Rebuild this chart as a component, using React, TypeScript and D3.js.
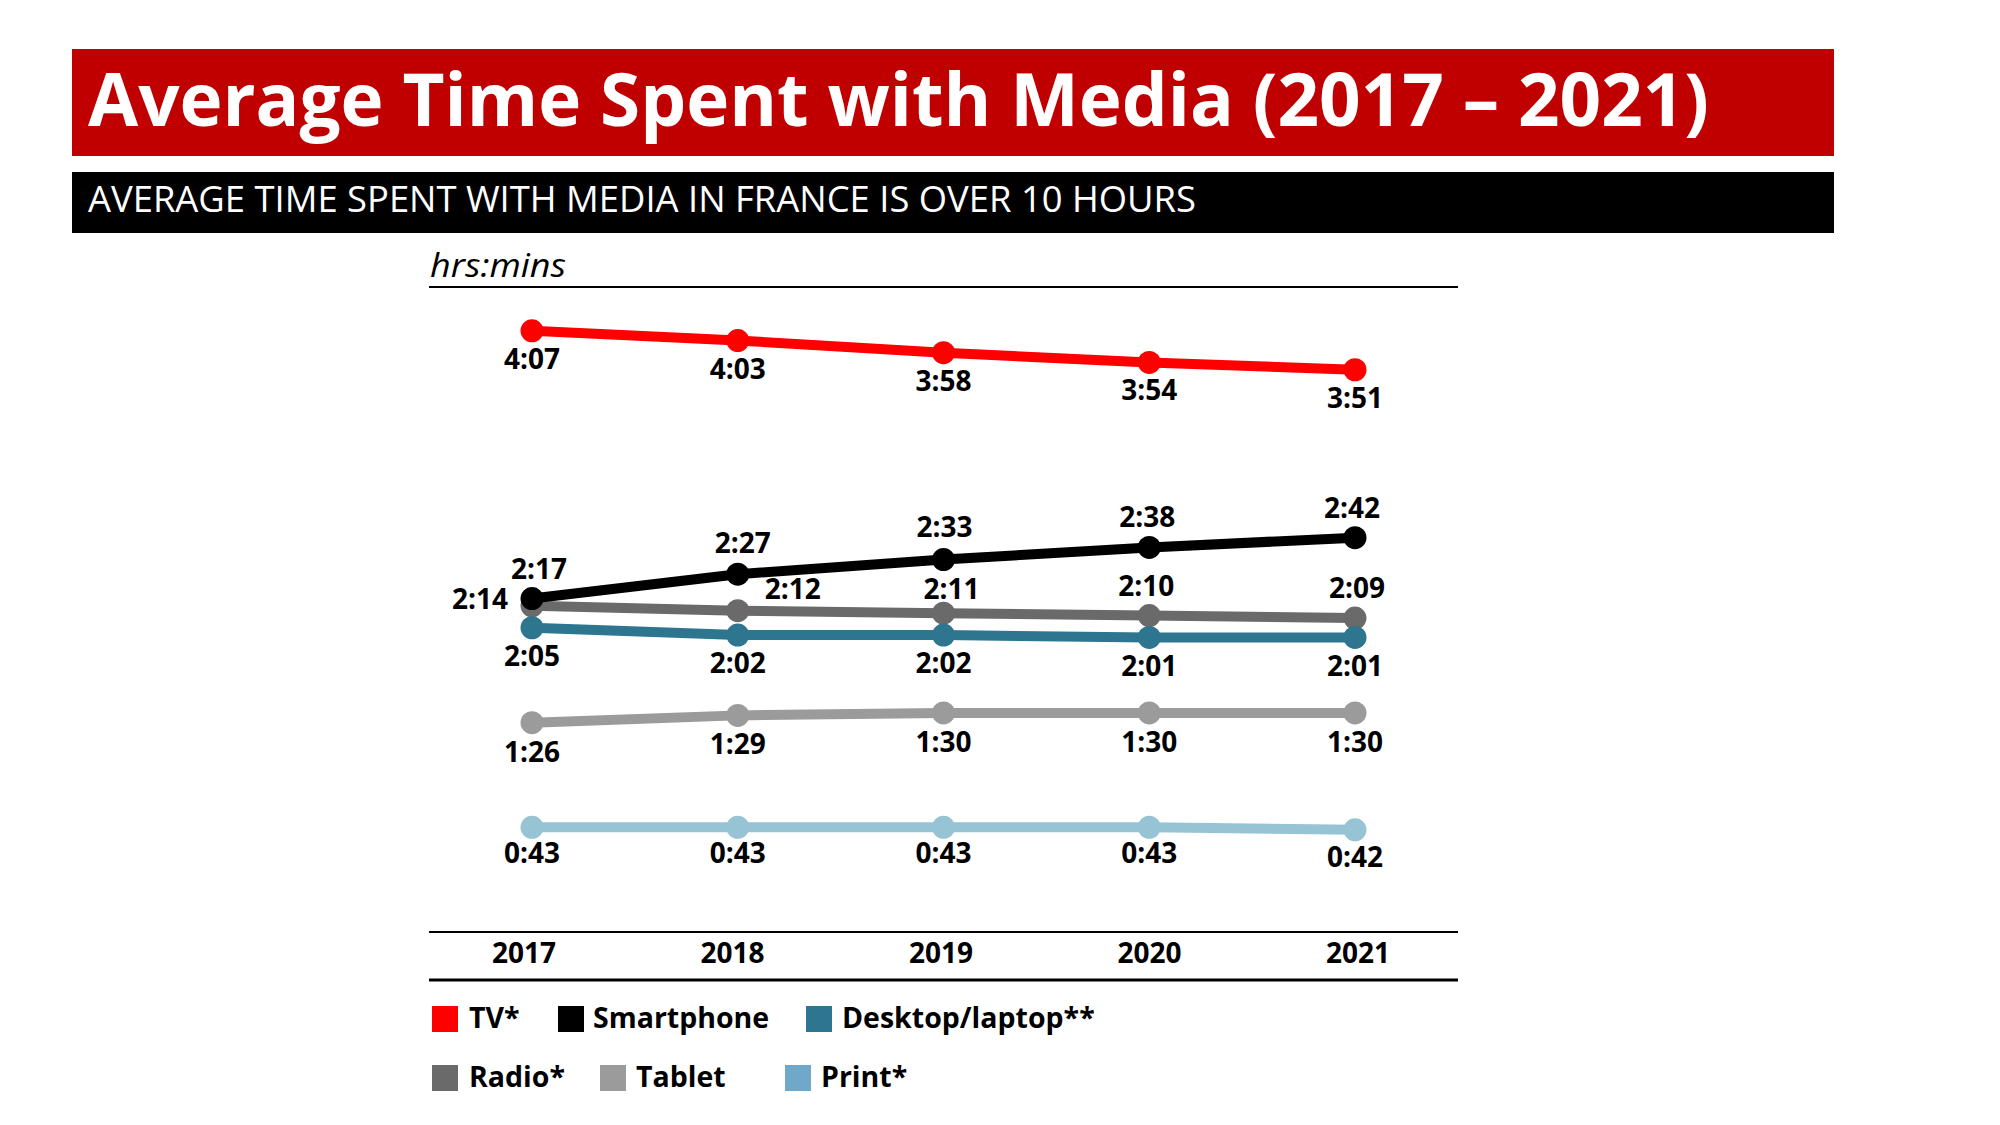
import React from "react";
import * as d3 from "d3";

const years = ["2017", "2018", "2019", "2020", "2021"];
const seriesNames = ["TV*", "Smartphone", "Desktop/laptop**", "Radio*", "Tablet", "Print*"];
// values in minutes
const tvValues = [247, 243, 238, 234, 231];
const smartphoneValues = [137, 147, 153, 158, 162];
const desktopValues = [125, 122, 122, 121, 121];
const radioValues = [134, 132, 131, 130, 129];
const tabletValues = [86, 89, 90, 90, 90];
const printValues = [43, 43, 43, 43, 42];

const titleText = "Average Time Spent with Media (2017 – 2021)";
const subtitleText = "AVERAGE TIME SPENT WITH MEDIA IN FRANCE IS OVER 10 HOURS";
const unitText = "hrs:mins";

const fmt = (m: number) => `${Math.floor(m / 60)}:${String(m % 60).padStart(2, "0")}`;

const FONT = "'Open Sans', 'DejaVu Sans', sans-serif";

type Series = {
  name: string;
  values: number[];
  color: string;
  offsets: [number, number, string?][];
};

export default function App() {
  const W = 2000, H = 1125;
  const x = d3.scalePoint<string>().domain(years).range([532, 1355]);
  const xLabel = d3.scalePoint<string>().domain(years).range([524, 1358]);
  const y = d3.scaleLinear().domain([0, 265]).range([932, 287]);

  const series: Series[] = [
    { name: seriesNames[3], values: radioValues, color: "#6A6A6A",
      offsets: [[-24, 3, "end"], [55, -12], [8, -14], [-3, -20], [2, -20]] },
    { name: seriesNames[2], values: desktopValues, color: "#2E7590",
      offsets: [[0, 38], [0, 38], [0, 38], [0, 39], [0, 39]] },
    { name: seriesNames[4], values: tabletValues, color: "#9B9B9B",
      offsets: [[0, 39], [0, 39], [0, 39], [0, 39], [0, 39]] },
    { name: seriesNames[5], values: printValues, color: "#97C4D4",
      offsets: [[0, 36], [0, 36], [0, 36], [0, 36], [0, 37]] },
    { name: seriesNames[1], values: smartphoneValues, color: "#000000",
      offsets: [[7, -20], [5, -21], [1, -23], [-2, -20], [-3, -20]] },
    { name: seriesNames[0], values: tvValues, color: "#FF0000",
      offsets: [[0, 38], [0, 38], [0, 38], [0, 38], [0, 38]] },
  ];

  const line = d3.line<number>()
    .x((_, i) => x(years[i]) as number)
    .y((v) => y(v));

  const legendItems = [
    { name: seriesNames[0], color: "#FF0000", sx: 432, tx: 469, row: 0 },
    { name: seriesNames[1], color: "#000000", sx: 558, tx: 593, row: 0 },
    { name: seriesNames[2], color: "#2E7590", sx: 806, tx: 842, row: 0 },
    { name: seriesNames[3], color: "#6A6A6A", sx: 432, tx: 469, row: 1 },
    { name: seriesNames[4], color: "#9B9B9B", sx: 600, tx: 636, row: 1 },
    { name: seriesNames[5], color: "#6FA8C8", sx: 785, tx: 821, row: 1 },
  ];

  return (
    <svg width={W} height={H} style={{ position: "absolute", left: 0, top: 0, background: "#fff" }}
      fontFamily={FONT}>
      <rect x={72} y={49} width={1762} height={107} fill="#C00000" />
      <text x={88} y={126} fill="#fff" fontSize={74} fontWeight={700}
        textLength={1621} lengthAdjust="spacingAndGlyphs">{titleText}</text>
      <rect x={72} y={172} width={1762} height={61} fill="#000" />
      <text x={88} y={212} fill="#fff" fontSize={36}
        textLength={1108} lengthAdjust="spacingAndGlyphs">{subtitleText}</text>

      <text x={430} y={277} fontSize={33} fontStyle="italic" fill="#000"
        textLength={136} lengthAdjust="spacingAndGlyphs">{unitText}</text>
      <line x1={429} x2={1458} y1={287} y2={287} stroke="#000" strokeWidth={2} />
      <line x1={429} x2={1458} y1={932} y2={932} stroke="#000" strokeWidth={2} />
      <line x1={429} x2={1458} y1={980} y2={980} stroke="#000" strokeWidth={3} />

      {years.map((yr) => (
        <text key={yr} x={xLabel(yr)} y={963} textAnchor="middle" fontSize={28} fontWeight={700}>{yr}</text>
      ))}

      {series.map((s) => (
        <g key={s.name}>
          <path d={line(s.values) || ""} fill="none" stroke={s.color} strokeWidth={10} strokeLinejoin="round" />
          {s.values.map((v, i) => (
            <circle key={i} cx={x(years[i])} cy={y(v)} r={11.5} fill={s.color} />
          ))}
        </g>
      ))}
      {series.map((s) => (
        <g key={s.name + "-labels"}>
          {s.values.map((v, i) => {
            const o = s.offsets[i];
            return (
              <text key={i} x={(x(years[i]) as number) + o[0]} y={y(v) + o[1]}
                textAnchor={(o[2] as any) || "middle"} fontSize={28} fontWeight={700} fill="#000">
                {fmt(v)}
              </text>
            );
          })}
        </g>
      ))}

      {legendItems.map((l) => (
        <g key={l.name}>
          <rect x={l.sx} y={l.row === 0 ? 1006 : 1065} width={26} height={26} fill={l.color} />
          <text x={l.tx} y={l.row === 0 ? 1028 : 1087} fontSize={28.5} fontWeight={700}>{l.name}</text>
        </g>
      ))}
    </svg>
  );
}
